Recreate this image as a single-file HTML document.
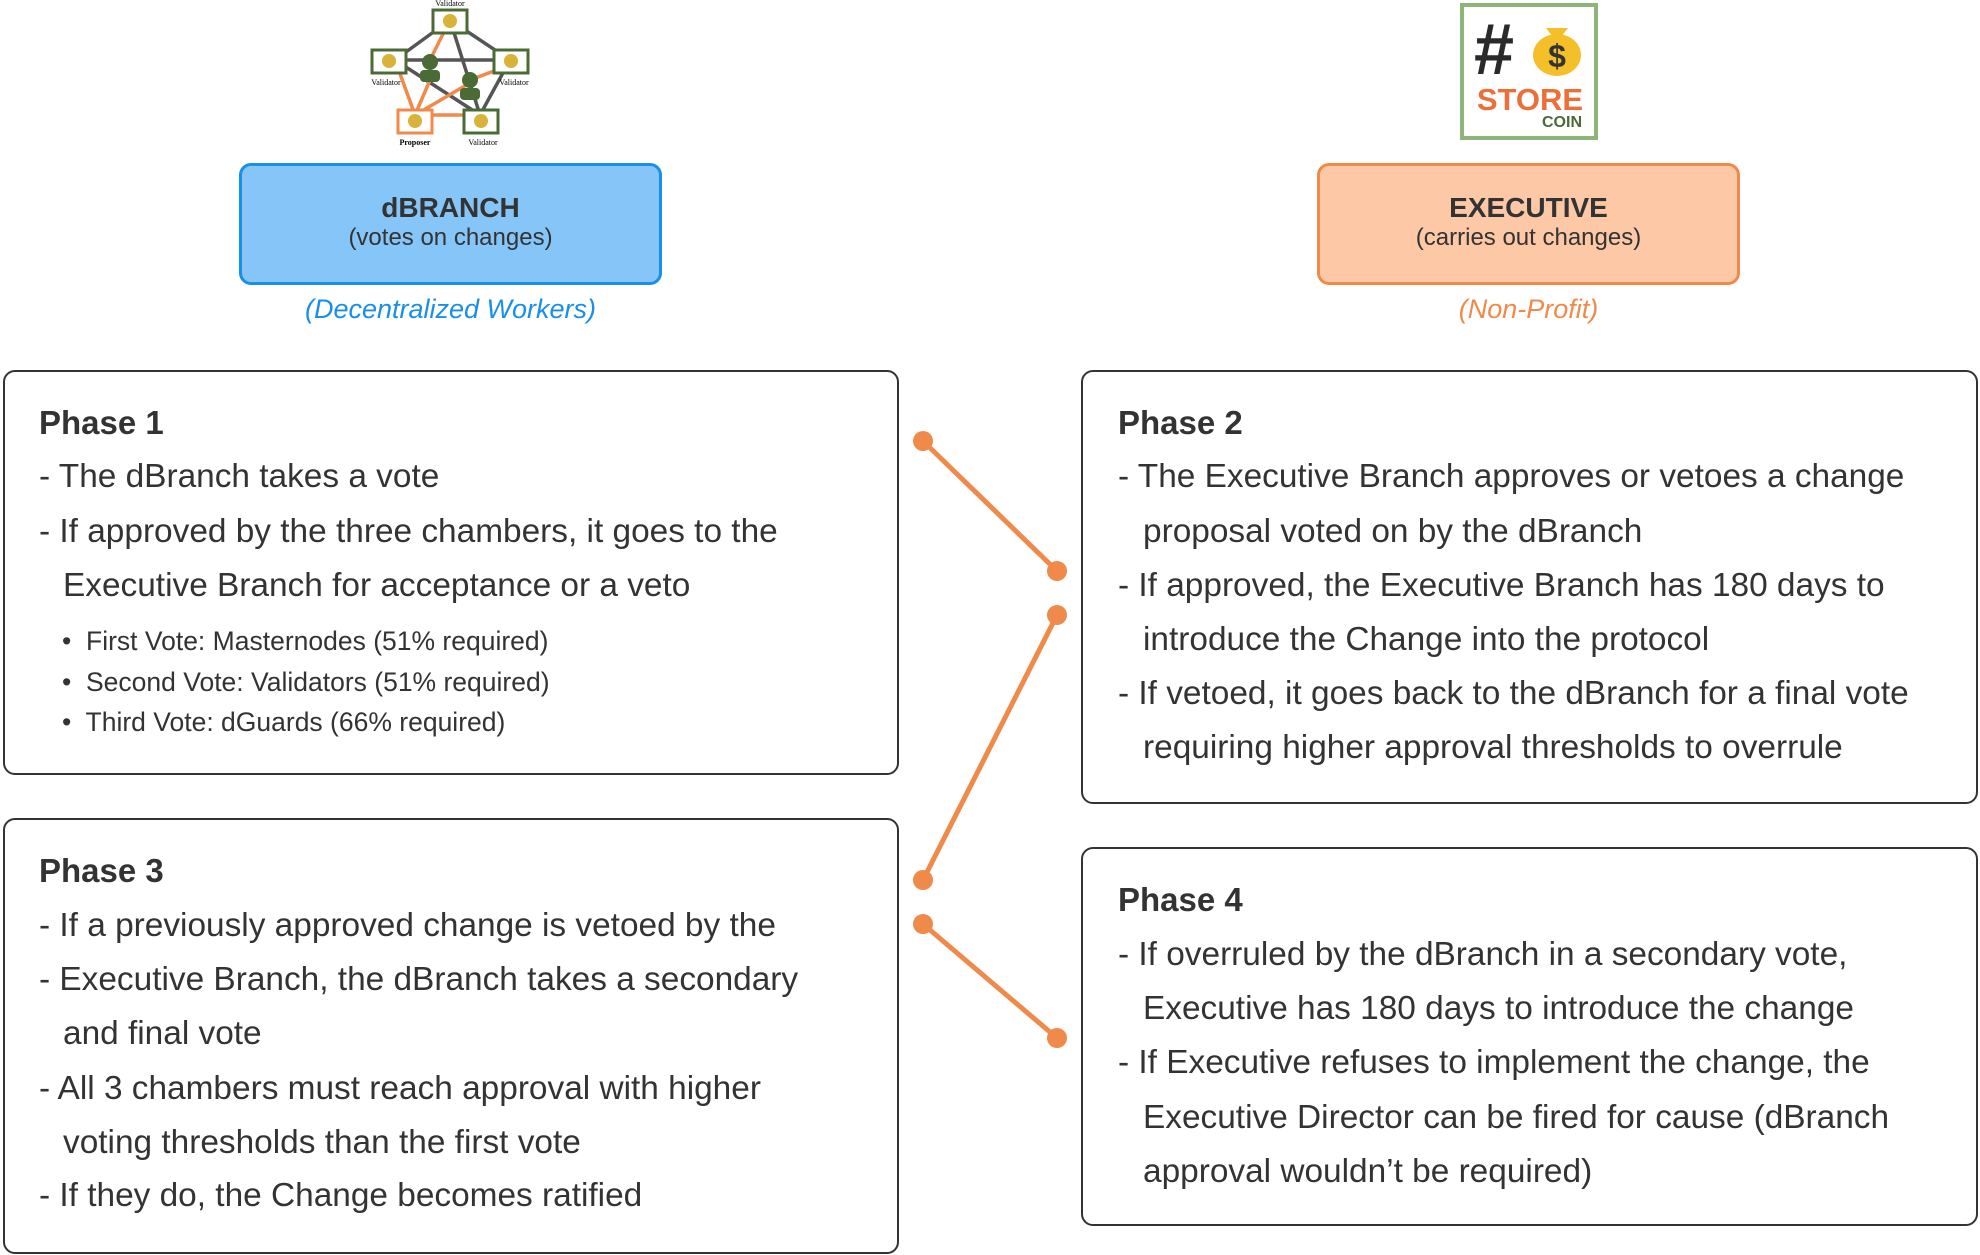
<!DOCTYPE html>
<html><head><meta charset="utf-8"><style>
body{margin:0;width:1980px;height:1255px;background:#fff;position:relative;overflow:hidden;font-family:"Liberation Sans",sans-serif;color:#333}
.b{position:absolute;border:2.5px solid #333;border-radius:12px;box-sizing:border-box;background:#fff}
.t{position:absolute;white-space:nowrap;font-size:33.4px;line-height:54px;height:54px}
.h{font-weight:bold;font-size:33px}
.s{font-size:26.5px;line-height:40px;height:40px}
</style></head><body>
<svg style="position:absolute;left:0;top:0" width="1980" height="1255">
<g stroke="#555" stroke-width="3.5">
<line x1="450" y1="20" x2="395" y2="60"/><line x1="450" y1="20" x2="480" y2="115"/><line x1="450" y1="20" x2="510" y2="60"/>
<line x1="395" y1="60" x2="510" y2="60"/><line x1="395" y1="60" x2="480" y2="115"/><line x1="510" y1="60" x2="480" y2="115"/>
</g>
<g stroke="#f08a4b" stroke-width="3.5">
<line x1="450" y1="20" x2="430" y2="60"/><line x1="395" y1="60" x2="415" y2="115"/><line x1="415" y1="115" x2="480" y2="115"/>
<line x1="415" y1="115" x2="475" y2="80"/><line x1="430" y1="80" x2="415" y2="115"/><line x1="470" y1="80" x2="510" y2="65"/>
</g>
<g fill="#fff" stroke="#4a6b35" stroke-width="3">
<rect x="433" y="10" width="34" height="23"/><rect x="372" y="50" width="34" height="23"/><rect x="494" y="50" width="34" height="23"/><rect x="464" y="110" width="34" height="23"/>
<rect x="398" y="110" width="34" height="23" stroke="#f08a4b"/>
</g>
<g fill="#d9b23a"><circle cx="450" cy="21" r="7"/><circle cx="389" cy="61" r="7"/><circle cx="511" cy="61" r="7"/><circle cx="481" cy="121" r="7"/><circle cx="415" cy="121" r="7"/></g>
<g fill="#4a6b35"><circle cx="430" cy="62" r="8"/><rect x="420" y="70" width="20" height="12" rx="4"/><circle cx="470" cy="80" r="8"/><rect x="460" y="88" width="20" height="12" rx="4"/></g>
<text x="450" y="6" font-size="8" text-anchor="middle" font-family="Liberation Serif">Validator</text>
<text x="386" y="85" font-size="8" text-anchor="middle" font-family="Liberation Serif">Validator</text>
<text x="514" y="85" font-size="8" text-anchor="middle" font-family="Liberation Serif">Validator</text>
<text x="415" y="145" font-size="8" text-anchor="middle" font-family="Liberation Serif" font-weight="bold">Proposer</text>
<text x="483" y="145" font-size="8" text-anchor="middle" font-family="Liberation Serif">Validator</text>
<rect x="1462" y="5" width="134" height="133" fill="#fff" stroke="#8db57a" stroke-width="4"/>
<text x="1474" y="74" font-size="72" font-weight="bold" fill="#2a2a2a" font-family="Liberation Sans">#</text>
<ellipse cx="1557" cy="55" rx="24" ry="21" fill="#f5bf2a"/><path d="M1546 28 L1568 28 L1561 37 L1553 37Z" fill="#f5bf2a"/>
<text x="1557" y="67" font-size="32" font-weight="bold" fill="#333" text-anchor="middle">$</text>
<text x="1530" y="110" font-size="31" font-weight="bold" fill="#ec6f3a" text-anchor="middle">STORE</text>
<text x="1582" y="127" font-size="16" font-weight="bold" fill="#4a6b35" text-anchor="end">COIN</text>
<g stroke="#f08a4b" stroke-width="5" fill="#f08a4b">
<line x1="923" y1="441" x2="1057" y2="571"/><line x1="1057" y1="615" x2="923" y2="880"/><line x1="923" y1="924" x2="1057" y2="1038"/>
<circle cx="923" cy="441" r="10" stroke="none"/><circle cx="1057" cy="571" r="10" stroke="none"/><circle cx="1057" cy="615" r="10" stroke="none"/><circle cx="923" cy="880" r="10" stroke="none"/><circle cx="923" cy="924" r="10" stroke="none"/><circle cx="1057" cy="1038" r="10" stroke="none"/>
</g>
</svg>
<div style="position:absolute;left:239px;top:163px;width:423px;height:122px;box-sizing:border-box;background:#85c5f8;border:3.5px solid #1a8fe8;border-radius:12px;text-align:center">
<div style="font-weight:bold;font-size:28px;margin-top:26px">dBRANCH</div><div style="font-size:24px">(votes on changes)</div></div>
<div style="position:absolute;left:1317px;top:163px;width:423px;height:122px;box-sizing:border-box;background:#fdc8a6;border:3.5px solid #f08a4b;border-radius:12px;text-align:center">
<div style="font-weight:bold;font-size:28px;margin-top:26px">EXECUTIVE</div><div style="font-size:24px">(carries out changes)</div></div>
<div style="position:absolute;left:239px;width:423px;top:294px;text-align:center;font-style:italic;font-size:27px;color:#1a8fe8">(Decentralized Workers)</div>
<div style="position:absolute;left:1317px;width:423px;top:294px;text-align:center;font-style:italic;font-size:27px;color:#f08a4b">(Non-Profit)</div>

<div class="b" style="left:3px;top:370px;width:896px;height:405px"></div>
<div class="b" style="left:1081px;top:370px;width:897px;height:434px"></div>
<div class="b" style="left:3px;top:818px;width:896px;height:436px"></div>
<div class="b" style="left:1081px;top:847px;width:897px;height:379px"></div>

<div class="t h" style="left:39px;top:396px">Phase 1</div>
<div class="t" style="left:39px;top:450px">- The dBranch takes a vote</div>
<div class="t" style="left:39px;top:505px">- If approved by the three chambers, it goes to the</div>
<div class="t" style="left:63px;top:559px">Executive Branch for acceptance or a veto</div>
<div class="t s" style="left:62px;top:621px">•&nbsp; First Vote: Masternodes (51% required)</div>
<div class="t s" style="left:62px;top:662px">•&nbsp; Second Vote: Validators (51% required)</div>
<div class="t s" style="left:62px;top:702px">•&nbsp; Third Vote: dGuards (66% required)</div>

<div class="t h" style="left:39px;top:844px">Phase 3</div>
<div class="t" style="left:39px;top:899px">- If a previously approved change is vetoed by the</div>
<div class="t" style="left:39px;top:953px">- Executive Branch, the dBranch takes a secondary</div>
<div class="t" style="left:63px;top:1007px">and final vote</div>
<div class="t" style="left:39px;top:1062px">- All 3 chambers must reach approval with higher</div>
<div class="t" style="left:63px;top:1116px">voting thresholds than the first vote</div>
<div class="t" style="left:39px;top:1169px">- If they do, the Change becomes ratified</div>

<div class="t h" style="left:1118px;top:396px">Phase 2</div>
<div class="t" style="left:1118px;top:450px">- The Executive Branch approves or vetoes a change</div>
<div class="t" style="left:1143px;top:505px">proposal voted on by the dBranch</div>
<div class="t" style="left:1118px;top:559px">- If approved, the Executive Branch has 180 days to</div>
<div class="t" style="left:1143px;top:613px">introduce the Change into the protocol</div>
<div class="t" style="left:1118px;top:667px">- If vetoed, it goes back to the dBranch for a final vote</div>
<div class="t" style="left:1143px;top:721px">requiring higher approval thresholds to overrule</div>

<div class="t h" style="left:1118px;top:873px">Phase 4</div>
<div class="t" style="left:1118px;top:928px">- If overruled by the dBranch in a secondary vote,</div>
<div class="t" style="left:1143px;top:982px">Executive has 180 days to introduce the change</div>
<div class="t" style="left:1118px;top:1036px">- If Executive refuses to implement the change, the</div>
<div class="t" style="left:1143px;top:1091px">Executive Director can be fired for cause (dBranch</div>
<div class="t" style="left:1143px;top:1145px">approval wouldn’t be required)</div>
</body></html>
